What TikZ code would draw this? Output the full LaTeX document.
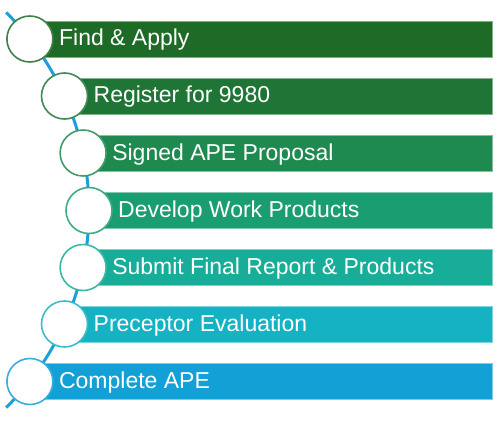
\documentclass[tikz,border=0pt]{standalone}
\usepackage{fontspec}
\setmainfont{Liberation Sans}
\definecolor{paso1}{HTML}{1D6B26}
\definecolor{paso2}{HTML}{1F7536}
\definecolor{paso3}{HTML}{1F8A50}
\definecolor{paso4}{HTML}{1B9D72}
\definecolor{paso5}{HTML}{17AD98}
\definecolor{paso6}{HTML}{14B2C2}
\definecolor{paso7}{HTML}{12A0D7}
\definecolor{linea}{HTML}{1E9FDA}
\begin{document}
\begin{tikzpicture}[x=1pt,y=1pt,
    hito/.style={circle, fill=white, line width=1.6pt, minimum size=46pt, inner sep=0pt},
    etiqueta/.style={text=white, inner sep=0pt, font=\fontsize{23}{27}\selectfont}]
    \useasboundingbox (0,0) rectangle (500,421);

    % Linea curva de la ruta
    \coordinate (centro) at (-188,211);
    \draw[linea, line width=3pt] (centro) ++(45.5:277) arc[start angle=45.5, end angle=-45.5, radius=277];

    % Barras, hitos y etiquetas
    \foreach \i/\x/\y/\texto in {1/29.9/382/Find \& Apply,
                                 2/64.5/325/Register for 9980,
                                 3/83.1/268/Signed APE Proposal,
                                 4/89/210.5/Develop Work Products,
                                 5/83.1/153.5/Submit Final Report \& Products,
                                 6/64.5/97/Preceptor Evaluation,
                                 7/29.9/39.5/Complete APE} {
        \filldraw[fill=paso\i, draw=paso\i!55!white, line width=0.8pt] (\x,\y-18) rectangle (492,\y+18);
        \node[hito, draw=paso\i!85!white] (h\i) at (\x,\y) {};
        \node[etiqueta, anchor=base west] (t\i) at (\x+29,\y-7) {\texto};
    }
\end{tikzpicture}
\end{document}
